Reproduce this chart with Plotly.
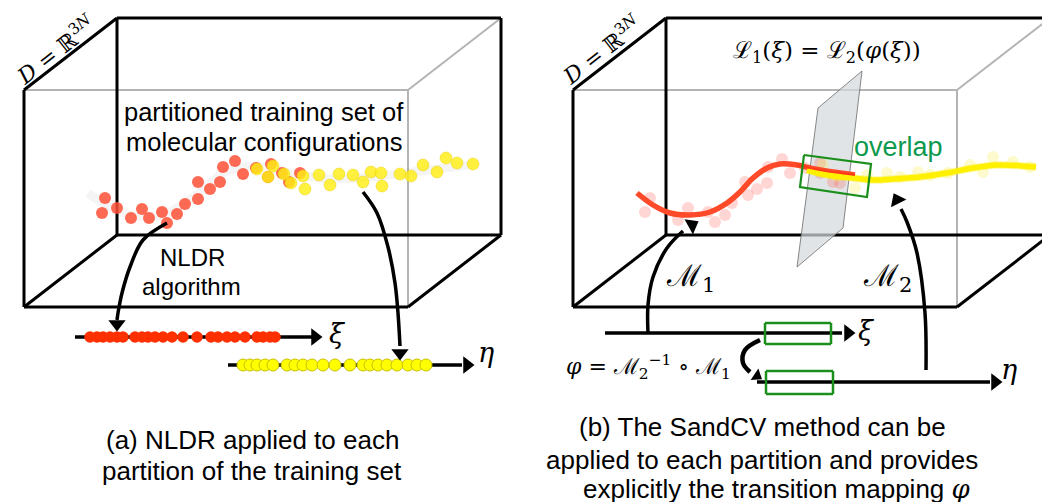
import math
import plotly.graph_objects as go

# ---------------- data (pixel space) ----------------
# panel (a): training set in the box
red_box_x = [105, 102, 117, 131, 142, 149, 162, 167, 177, 185, 198, 210, 198, 220, 223, 235, 243, 256, 271, 268, 282, 289, 300]
red_box_y = [198, 213, 208, 218, 209, 218, 212, 223, 214, 204, 199, 189, 182, 182, 167, 161, 174, 168, 164, 177, 173, 182, 173]
yellow_box_x = [257, 273, 268, 284, 291, 303, 305, 319, 330, 339, 353, 363, 371, 381, 382, 400, 411, 423, 437, 446, 457, 473]
yellow_box_y = [169, 166, 177, 174, 183, 176, 189, 175, 185, 174, 175, 182, 172, 173, 186, 174, 176, 165, 172, 158, 163, 164]
ghost_x = [88, 110, 135, 165, 195, 225, 255, 290, 330, 380, 430, 475]
ghost_y = [193, 207, 216, 214, 196, 172, 166, 173, 179, 176, 170, 164]
# panel (a): embedded coordinates
red_axis_x = [90, 97, 103, 110, 117, 123, 135, 142, 148, 155, 163, 172, 183, 197, 211, 218, 227, 235, 245, 257, 263, 270, 275]
yellow_axis_x = [243, 250, 257, 265, 273, 287, 295, 303, 312, 323, 335, 350, 363, 370, 378, 387, 397, 408, 417, 426]
# panel (b): faint samples and fitted curves
pink_x = [645, 650, 678, 688, 708, 715, 725, 732, 745, 748, 757, 767, 768, 782, 790, 805, 820, 820, 833, 840]
pink_y = [212, 198, 220, 208, 212, 222, 215, 203, 182, 195, 189, 183, 167, 159, 173, 168, 163, 173, 182, 183]
faint_yellow_x = [823, 837, 855, 867, 887, 900, 918, 930, 948, 970, 983, 993, 1013, 1030]
faint_yellow_y = [165, 176, 188, 175, 173, 177, 172, 175, 173, 165, 172, 157, 162, 167]
red_curve_x = [637, 653, 670, 690, 710, 727, 740, 753, 767, 780, 797, 810, 833, 855]
red_curve_y = [193, 205, 213, 215, 212, 203, 192, 178, 168, 164, 165, 168, 172, 175]
yellow_curve_x = [807, 827, 853, 873, 893, 920, 947, 973, 997, 1036]
yellow_curve_y = [170, 175, 178, 180, 179, 177, 173, 168, 165, 167]

# ---------------- geometry / style ----------------
W, H = 1050, 502
PAGE_OFFSET = 8  # default body margin of the html page
DEPTH = (93, -72)
BLACK = "#000000"
GRAY = "#b4b4b4"
SANS = "Liberation Sans, Arial, Helvetica, sans-serif"
SERIF = "DejaVu Serif, Liberation Serif, serif"
GREEN_BOX = "#1b8f1b"
GREEN_TXT = "#0c9a4e"

fig = go.Figure()


def seg_trace(segs, color, width):
    xs, ys = [], []
    for (x0, y0, x1, y1) in segs:
        xs += [x0, x1, None]
        ys += [y0, y1, None]
    fig.add_trace(go.Scatter(x=xs, y=ys, mode="lines", hoverinfo="skip",
                             line=dict(color=color, width=width)))


def box(x0, y0, x1, y1, back_right=None):
    dx, dy = DEPTH
    bx0, by0 = x0 + dx, y0 + dy
    bx1 = back_right if back_right is not None else x1 + dx
    by1 = y1 + dy
    gray = [(x0, y0, x1, y0), (x1, y0, x1, y1), (x1, y0, x1 + dx, y0 + dy)]
    black = [(bx0, by0, bx1, by0), (bx0, by0, bx0, by1), (bx0, by1, bx1, by1),
             (x0, y0, bx0, by0), (x0, y0, x0, y1), (x0, y1, x1, y1),
             (x0, y1, bx0, by1), (x1, y1, x1 + dx, y1 + dy)]
    if back_right is None:
        black.append((bx1, by0, bx1, by1))
    seg_trace(gray, GRAY, 2)
    seg_trace(black, BLACK, 3)


def arrowhead(xp, yp, xt, yt, size=15, color=BLACK):
    ang = math.degrees(math.atan2(xt - xp, -(yt - yp)))
    fig.add_trace(go.Scatter(x=[xt], y=[yt], mode="markers", hoverinfo="skip",
                             marker=dict(symbol="triangle-up", size=size, angle=ang,
                                         color=color, line=dict(width=0))))


def curve(xs, ys, width=3.5, color=BLACK, shape="spline"):
    fig.add_trace(go.Scatter(x=xs, y=ys, mode="lines", hoverinfo="skip",
                             line=dict(color=color, width=width, shape=shape, smoothing=1.0)))


def text(x, y, s, size, family=SANS, color=BLACK, angle=0):
    fig.add_annotation(x=x, y=y, xref="x", yref="y", text=s, showarrow=False,
                       textangle=angle, font=dict(family=family, size=size, color=color),
                       xanchor="center", yanchor="middle")


# ================= panel (a) =================
box(24, 90, 408, 307)
curve(ghost_x, ghost_y, width=9, color="rgba(0,0,0,0.04)")
fig.add_trace(go.Scatter(x=red_box_x, y=red_box_y, mode="markers", hoverinfo="skip",
                         marker=dict(size=12, color="rgba(255,80,55,0.85)", line=dict(width=0))))
fig.add_trace(go.Scatter(x=yellow_box_x, y=yellow_box_y, mode="markers", hoverinfo="skip",
                         marker=dict(size=12, color="rgba(255,238,20,0.82)",
                                     line=dict(width=1, color="rgba(230,200,0,0.4)"))))
text(264, 112, "partitioned training set of", 25.5)
text(264, 142, "molecular configurations", 25.5)
text(192, 257, "NLDR", 24)
text(191, 286, "algorithm", 24)
text(55, 50, "<i>D</i> = ℝ<sup>3<i>N</i></sup>", 22, family=SERIF, angle=-38)

# axes of panel (a)
seg_trace([(75, 337, 312, 337)], BLACK, 3.5)
arrowhead(300, 337, 315, 337)
fig.add_trace(go.Scatter(x=red_axis_x, y=[337] * len(red_axis_x), mode="markers", hoverinfo="skip",
                         marker=dict(size=11.5, color="#ff3000", line=dict(width=0))))
text(337, 333, "<i>ξ</i>", 27, family=SERIF)
seg_trace([(228, 365, 462, 365)], BLACK, 3.5)
arrowhead(450, 365, 467, 365)
fig.add_trace(go.Scatter(x=yellow_axis_x, y=[365] * len(yellow_axis_x), mode="markers", hoverinfo="skip",
                         marker=dict(size=12, color="#ffff00", line=dict(width=1, color="#c8c000"))))
text(486, 352, "<i>η</i>", 27, family=SERIF)

# arrows of panel (a)
curve([167, 143, 130, 122, 118, 117], [223, 240, 267, 293, 313, 320])
arrowhead(117, 313, 117, 324)
curve([363, 377, 388, 395, 398, 400], [192, 213, 247, 283, 313, 346])
arrowhead(400, 340, 400, 353)

text(252, 440, "(a) NLDR applied to each", 26)
text(252, 471, "partition of the training set", 26)

# ================= panel (b) =================
box(573, 90, 957, 307, back_right=1060)
fig.add_trace(go.Scatter(x=[818, 862, 843, 797, 818], y=[108, 71, 228, 267, 108], mode="lines",
                         fill="toself", fillcolor="rgba(214,217,221,0.72)", hoverinfo="skip",
                         line=dict(color="#6b6b6b", width=0.8)))
fig.add_trace(go.Scatter(x=pink_x, y=pink_y, mode="markers", hoverinfo="skip",
                         marker=dict(size=12, color="rgba(255,90,80,0.25)", line=dict(width=0))))
fig.add_trace(go.Scatter(x=faint_yellow_x, y=faint_yellow_y, mode="markers", hoverinfo="skip",
                         marker=dict(size=12, color="rgba(250,240,90,0.3)", line=dict(width=0))))
curve(red_curve_x, red_curve_y, width=5.5, color="#ff4a2a")
curve(yellow_curve_x, yellow_curve_y, width=7.5, color="rgba(250,235,0,0.35)")
curve(yellow_curve_x, yellow_curve_y, width=5.5, color="#fff000")
curve(red_curve_x[-4:], red_curve_y[-4:], width=2, color="#ff3a1a")
# overlap box in the ambient space
fig.add_trace(go.Scatter(x=[804, 871, 867, 800, 804], y=[155, 164, 197, 187, 155], mode="lines",
                         hoverinfo="skip", line=dict(color=GREEN_BOX, width=2.2)))
text(898, 147, "overlap", 27, color=GREEN_TXT)
text(827, 52, "ℒ<sub>1</sub>(<i>ξ</i>) = ℒ<sub>2</sub>(<i>φ</i>(<i>ξ</i>))", 23, family=SERIF)
text(601, 50, "<i>D</i> = ℝ<sup>3<i>N</i></sup>", 22, family=SERIF, angle=-38)

# axes of panel (b)
seg_trace([(605, 333, 842, 333)], BLACK, 3.5)
arrowhead(835, 333, 848, 333)
text(866, 330, "<i>ξ</i>", 27, family=SERIF)
seg_trace([(757, 382, 990, 382)], BLACK, 3.5)
arrowhead(980, 382, 995, 382)
text(1009, 369, "<i>η</i>", 27, family=SERIF)
seg_trace([(765, 323, 831, 323), (831, 323, 831, 344), (831, 344, 765, 344), (765, 344, 765, 323)], GREEN_BOX, 2.5)
seg_trace([(766, 371, 833, 371), (833, 371, 833, 394), (833, 394, 766, 394), (766, 394, 766, 371)], GREEN_BOX, 2.5)

# mapping arrows
curve([648, 648, 653, 667, 683], [333, 305, 277, 248, 231])
arrowhead(683, 230, 692, 225)
curve([926, 925, 917, 907, 901], [370, 313, 253, 222, 209])
arrowhead(907, 220, 897, 200)
curve([760, 745, 743, 750], [340, 350, 363, 372], width=4.5)
arrowhead(748, 370, 757, 376, size=12)

text(690, 277, "ℳ<sub>1</sub>", 30, family=SERIF)
text(887, 277, "ℳ<sub>2</sub>", 30, family=SERIF)
text(648, 367, "<i>φ</i> = ℳ<sub>2</sub><sup>−1</sup> ∘ ℳ<sub>1</sub>", 22, family=SERIF)

text(762, 427, "(b) The SandCV method can be", 26)
text(762, 460, "applied to each partition and provides", 26)
text(777, 489, "explicitly the transition mapping <i><span style='font-family:DejaVu Serif'>φ</span></i>", 26)

fig.update_layout(
    width=W, height=H, margin=dict(l=0, r=0, t=0, b=0),
    paper_bgcolor="white", plot_bgcolor="white", showlegend=False,
    xaxis=dict(range=[PAGE_OFFSET, W + PAGE_OFFSET], visible=False, fixedrange=True),
    yaxis=dict(range=[H + PAGE_OFFSET, PAGE_OFFSET], visible=False, fixedrange=True),
)
fig.write_html("out.html")
